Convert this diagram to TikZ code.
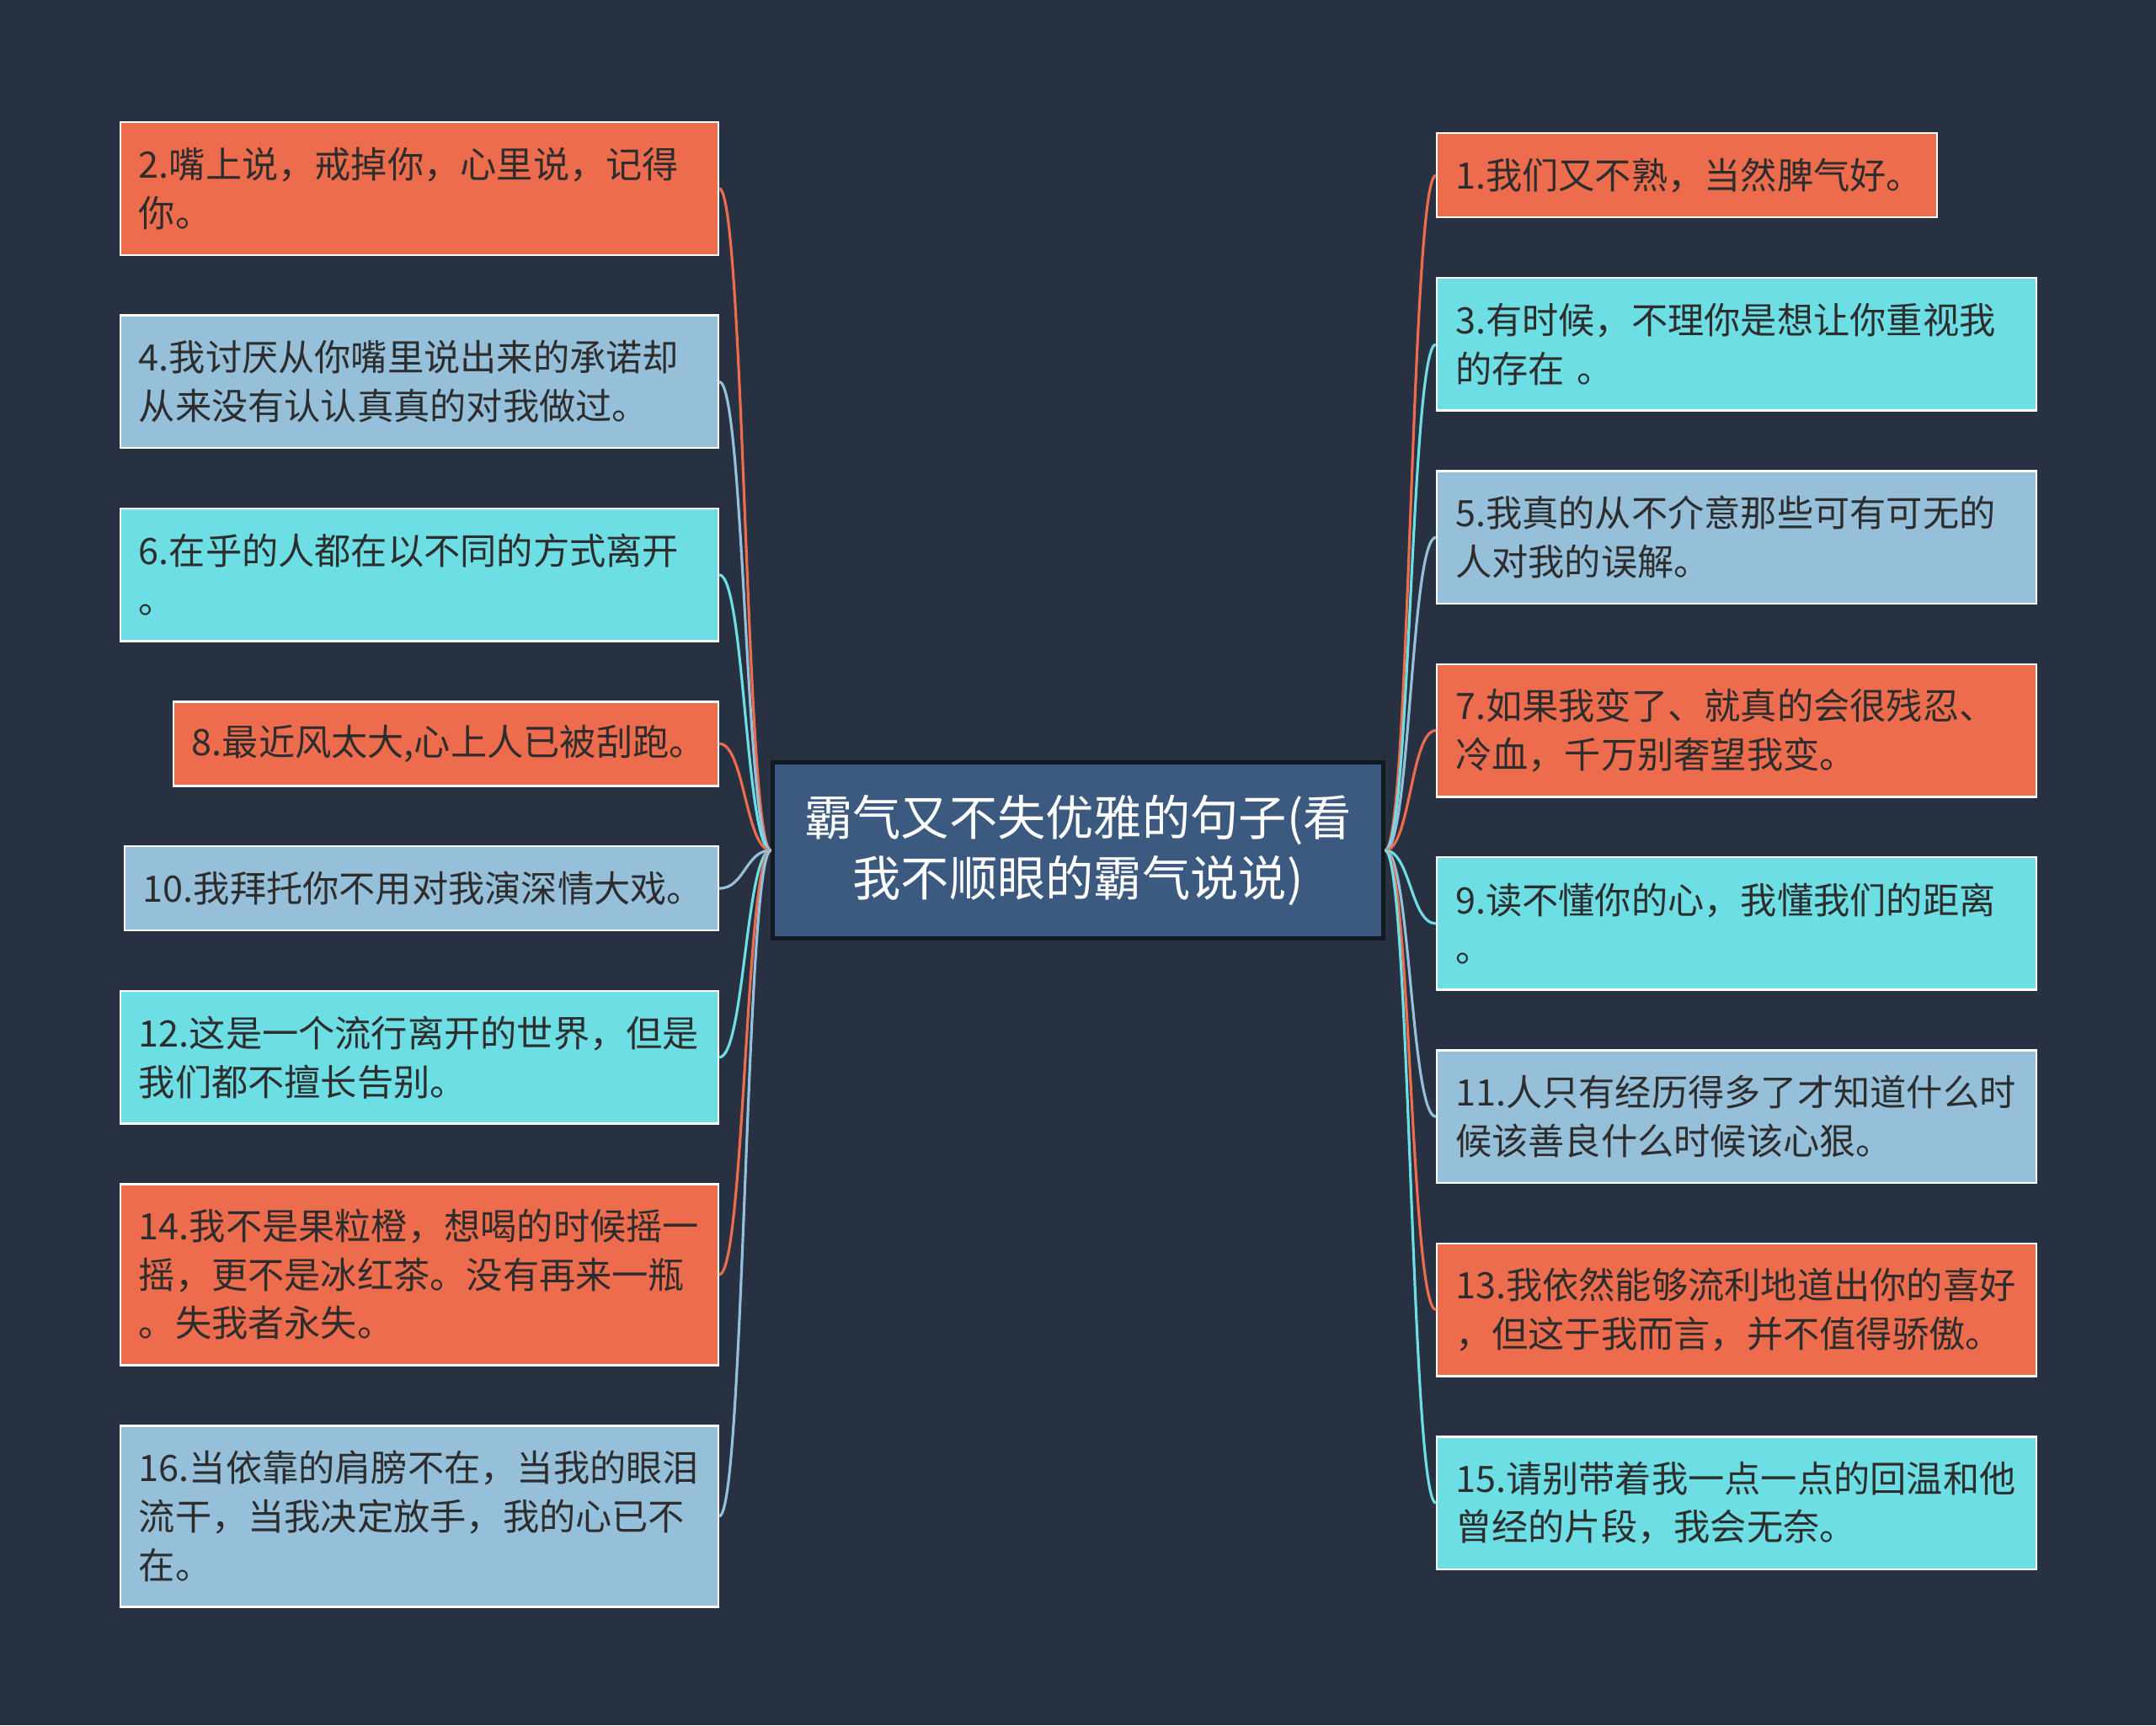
\documentclass[tikz,border=0pt]{standalone}
\usepackage{fontspec}
\newfontfamily\cjk{Noto Sans CJK SC}
\usetikzlibrary{positioning}
\definecolor{bgdark}{RGB}{40,49,66}
\definecolor{leaforange}{RGB}{238,108,78}
\definecolor{leafblue}{RGB}{150,192,218}
\definecolor{leafcyan}{RGB}{108,222,228}
\definecolor{topicblue}{RGB}{60,90,128}
\definecolor{topicedge}{RGB}{20,24,32}
\definecolor{inkgray}{RGB}{45,45,45}
\tikzset{
  leafbox/.style={
    rectangle,
    draw=white,
    line width=0.7pt,
    align=left,
    text=inkgray,
    inner xsep=2.2mm,
    inner ysep=0pt,
    minimum height=1.575cm,
    font=\cjk\fontsize{12.3}{16.4}\selectfont
  },
  topicbox/.style={
    rectangle,
    draw=topicedge,
    fill=topicblue,
    line width=1.2pt,
    align=center,
    text=white,
    minimum width=7.25cm,
    minimum height=2.09cm,
    font=\cjk\fontsize{16.3}{20.7}\selectfont
  },
  linkline/.style={line width=0.9pt}
}

\begin{document}
\begin{tikzpicture}[node distance=0.694cm]
  \useasboundingbox[fill=bgdark] (0,0) rectangle (25.6,-20.49);

  \node[topicbox] (topic) at (12.8,-10.1) {霸气又不失优雅的句子(看\\我不顺眼的霸气说说)};

  % left column
  \node[leafbox, fill=leaforange, text width=6.66cm, anchor=north east] (q2) at (8.54,-1.44) {2.嘴上说，戒掉你，心里说，记得\\你。};
  \node[leafbox, fill=leafblue, text width=6.66cm, below=of q2.south east, anchor=north east] (q4) {4.我讨厌从你嘴里说出来的承诺却\\从来没有认认真真的对我做过。};
  \node[leafbox, fill=leafcyan, text width=6.66cm, below=of q4.south east, anchor=north east] (q6) {6.在乎的人都在以不同的方式离开\\。};
  \node[leafbox, fill=leaforange, text width=6.03cm, minimum height=1cm, below=of q6.south east, anchor=north east] (q8) {8.最近风太大,心上人已被刮跑。};
  \node[leafbox, fill=leafblue, text width=6.61cm, minimum height=1cm, below=of q8.south east, anchor=north east] (q10) {10.我拜托你不用对我演深情大戏。};
  \node[leafbox, fill=leafcyan, text width=6.66cm, below=of q10.south east, anchor=north east] (q12) {12.这是一个流行离开的世界，但是\\我们都不擅长告别。};
  \node[leafbox, fill=leaforange, text width=6.66cm, minimum height=2.15cm, below=of q12.south east, anchor=north east] (q14) {14.我不是果粒橙，想喝的时候摇一\\摇，更不是冰红茶。没有再来一瓶\\。失我者永失。};
  \node[leafbox, fill=leafblue, text width=6.66cm, minimum height=2.15cm, below=of q14.south east, anchor=north east] (q16) {16.当依靠的肩膀不在，当我的眼泪\\流干，当我决定放手，我的心已不\\在。};

  % right column
  \node[leafbox, fill=leaforange, text width=5.50cm, minimum height=1cm, anchor=north west] (q1) at (17.05,-1.57) {1.我们又不熟，当然脾气好。};
  \node[leafbox, fill=leafcyan, text width=6.68cm, below=of q1.south west, anchor=north west] (q3) {3.有时候，不理你是想让你重视我\\的存在 。};
  \node[leafbox, fill=leafblue, text width=6.68cm, below=of q3.south west, anchor=north west] (q5) {5.我真的从不介意那些可有可无的\\人对我的误解。};
  \node[leafbox, fill=leaforange, text width=6.68cm, below=of q5.south west, anchor=north west] (q7) {7.如果我变了、就真的会很残忍、\\冷血，千万别奢望我变。};
  \node[leafbox, fill=leafcyan, text width=6.68cm, below=of q7.south west, anchor=north west] (q9) {9.读不懂你的心，我懂我们的距离\\。};
  \node[leafbox, fill=leafblue, text width=6.68cm, below=of q9.south west, anchor=north west] (q11) {11.人只有经历得多了才知道什么时\\候该善良什么时候该心狠。};
  \node[leafbox, fill=leaforange, text width=6.68cm, below=of q11.south west, anchor=north west] (q13) {13.我依然能够流利地道出你的喜好\\，但这于我而言，并不值得骄傲。};
  \node[leafbox, fill=leafcyan, text width=6.68cm, below=of q13.south west, anchor=north west] (q15) {15.请别带着我一点一点的回温和他\\曾经的片段，我会无奈。};

  % connectors
  \foreach \leaf/\tone in {q2/leaforange,q4/leafblue,q6/leafcyan,q8/leaforange,q10/leafblue,q12/leafcyan,q14/leaforange,q16/leafblue}
    \draw[linkline, draw=\tone] (topic.west) .. controls +(-0.3,0) and +(0.3,0) .. (\leaf.east);
  \foreach \leaf/\tone in {q1/leaforange,q3/leafcyan,q5/leafblue,q7/leaforange,q9/leafcyan,q11/leafblue,q13/leaforange,q15/leafcyan}
    \draw[linkline, draw=\tone] (topic.east) .. controls +(0.3,0) and +(-0.3,0) .. (\leaf.west);
\end{tikzpicture}
\end{document}
